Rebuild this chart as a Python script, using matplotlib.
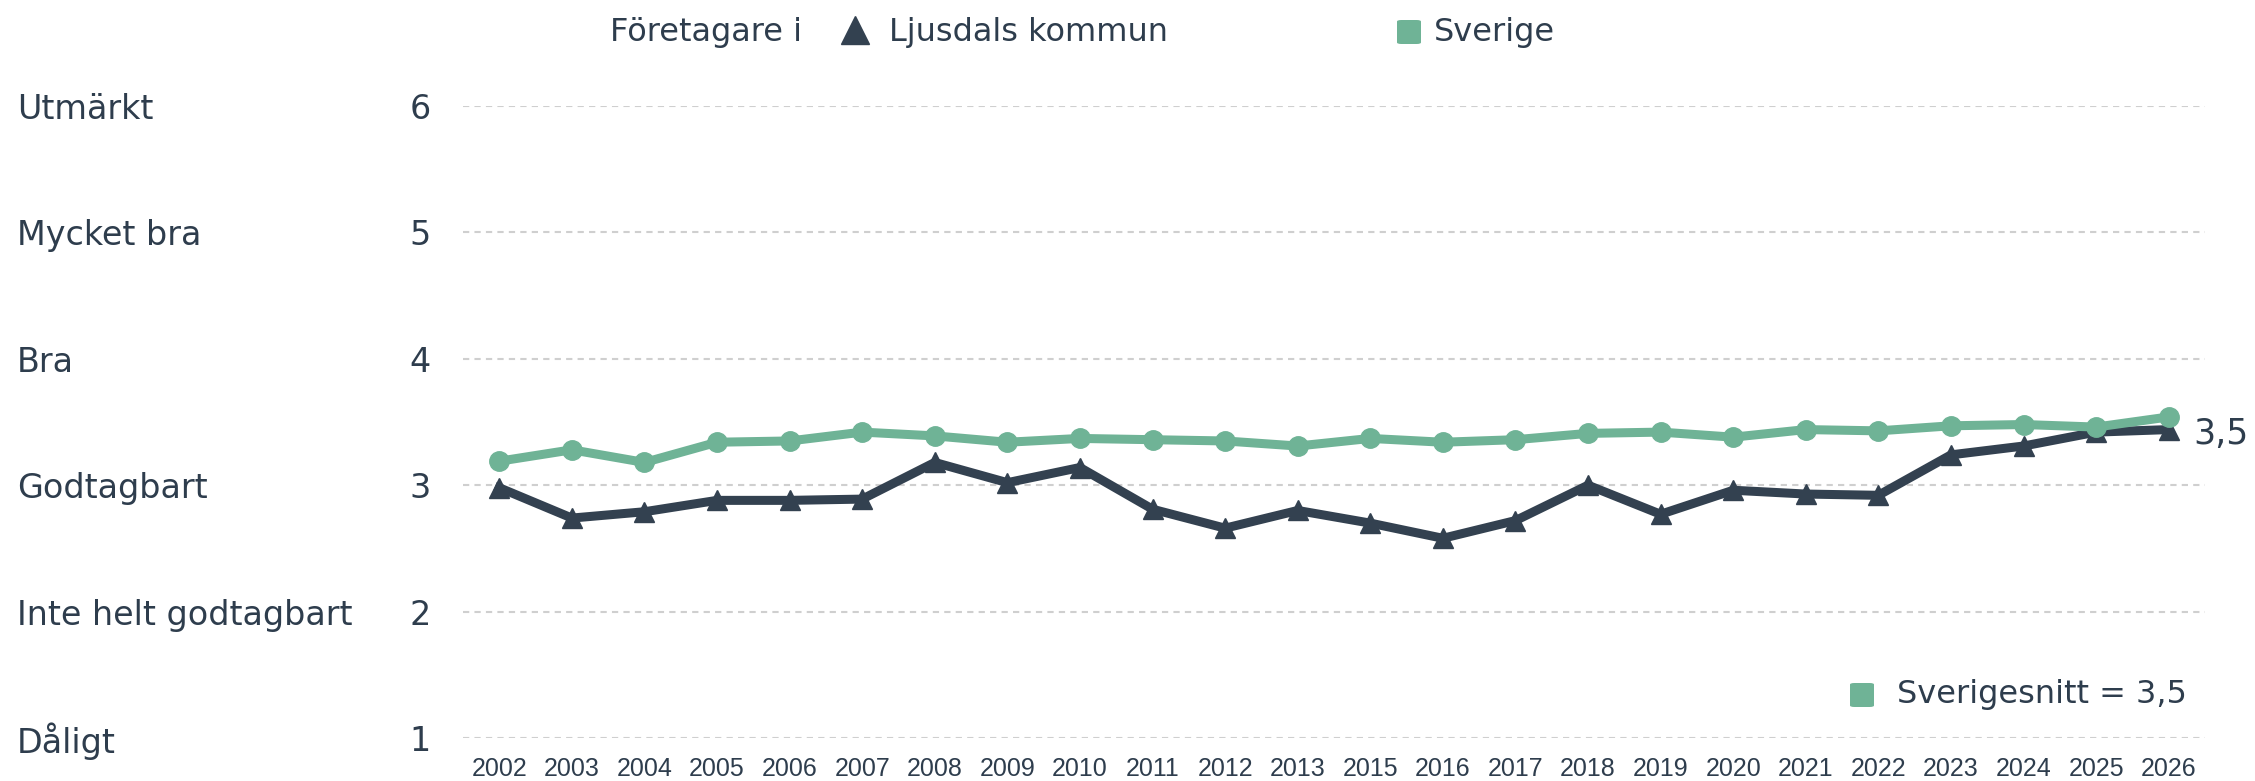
import matplotlib
matplotlib.use("Agg")
import matplotlib.pyplot as plt
from matplotlib.lines import Line2D
from matplotlib.patches import FancyBboxPatch
import matplotlib.transforms as mtransforms

years = ["2002", "2003", "2004", "2005", "2006", "2007", "2008", "2009", "2010",
         "2011", "2012", "2013", "2015", "2016", "2017", "2018", "2019", "2020",
         "2021", "2022", "2023", "2024", "2025", "2026"]
ljusdal = [2.98, 2.74, 2.79, 2.88, 2.88, 2.89, 3.18, 3.02, 3.14, 2.81, 2.66, 2.80,
           2.70, 2.58, 2.72, 3.00, 2.77, 2.96, 2.93, 2.92, 3.24, 3.31, 3.42, 3.44]
sverige = [3.19, 3.28, 3.18, 3.34, 3.35, 3.42, 3.39, 3.34, 3.37, 3.36, 3.35, 3.31,
           3.37, 3.34, 3.36, 3.41, 3.42, 3.38, 3.44, 3.43, 3.47, 3.48, 3.46, 3.54]
yticks = [1, 2, 3, 4, 5, 6]
ylabels = ["Dåligt", "Inte helt godtagbart", "Godtagbart", "Bra", "Mycket bra", "Utmärkt"]
last_label = "3,5"
avg_label = "Sverigesnitt = 3,5"

DARK = "#334150"
GREEN = "#6fb396"
TEXT = "#2e3d4d"
GRID = "#cfcfcf"

W, H = 2255, 781
fig = plt.figure(figsize=(W / 100, H / 100), dpi=100)
ax = fig.add_axes([463 / W, 1 - 738 / H, (2205 - 463) / W, (738 - 106) / H])

x = list(range(len(years)))
ax.plot(x, ljusdal, color=DARK, lw=6.5, marker="^", ms=15, zorder=3, clip_on=False)
ax.plot(x, sverige, color=GREEN, lw=6.5, marker="o", ms=14, zorder=4, clip_on=False)

ax.set_xlim(-0.5, len(years) - 0.5)
ax.set_ylim(1, 6)
ax.set_yticks(yticks)
ax.set_yticklabels([str(v) for v in yticks], fontsize=24, color=TEXT, family="DejaVu Sans",
                   va="center_baseline")
ax.set_xticks(x)
ax.set_xticklabels(years, fontsize=18, color=TEXT, family="Liberation Sans")
ax.tick_params(axis="both", length=0)
ax.tick_params(axis="y", pad=23)
ax.tick_params(axis="x", pad=14)
for s in ax.spines.values():
    s.set_visible(False)
ax.grid(axis="y", color=GRID, lw=1.5, ls=(0, (3, 2.5)))
ax.set_axisbelow(True)

trans = mtransforms.blended_transform_factory(fig.transFigure, ax.transData)
for v, lab in zip(yticks, ylabels):
    ax.text(17 / W, v, lab, transform=trans, fontsize=24, color=TEXT,
            family="DejaVu Sans", va="center_baseline", ha="left")

# end annotation
ax.annotate(last_label, (x[-1], sverige[-1]), xytext=(18, -12), textcoords="offset points",
            fontsize=25, color=TEXT, family="DejaVu Sans", va="center", ha="left")

# top legend
ly = 1 - 32 / H
fig.text(610 / W, ly, "Företagare i", fontsize=23, color=TEXT, family="DejaVu Sans",
         va="center", ha="left")
fig.add_artist(Line2D([855 / W], [ly + 2 / H], marker="^", ms=20, color=DARK, lw=0,
                      transform=fig.transFigure))
fig.text(889 / W, ly, "Ljusdals kommun", fontsize=23, color=TEXT, family="DejaVu Sans",
         va="center", ha="left")
sq = 24
fig.add_artist(FancyBboxPatch(((1409 - sq / 2) / W, ly - (sq / 2) / H), sq / W, sq / H,
                              boxstyle="round,pad=0,rounding_size=0.002",
                              transform=fig.transFigure, color=GREEN, lw=0))
fig.text(1434 / W, ly, "Sverige", fontsize=23, color=TEXT, family="DejaVu Sans",
         va="center", ha="left")

# bottom-right legend
by = 1 - 695 / H
fig.add_artist(FancyBboxPatch(((1862 - sq / 2) / W, by - (sq / 2) / H), sq / W, sq / H,
                              boxstyle="round,pad=0,rounding_size=0.002",
                              transform=fig.transFigure, color=GREEN, lw=0))
fig.text(1897 / W, by, avg_label, fontsize=23, color=TEXT, family="DejaVu Sans",
         va="center", ha="left")

fig.savefig("out.png", dpi=100, facecolor="white")
